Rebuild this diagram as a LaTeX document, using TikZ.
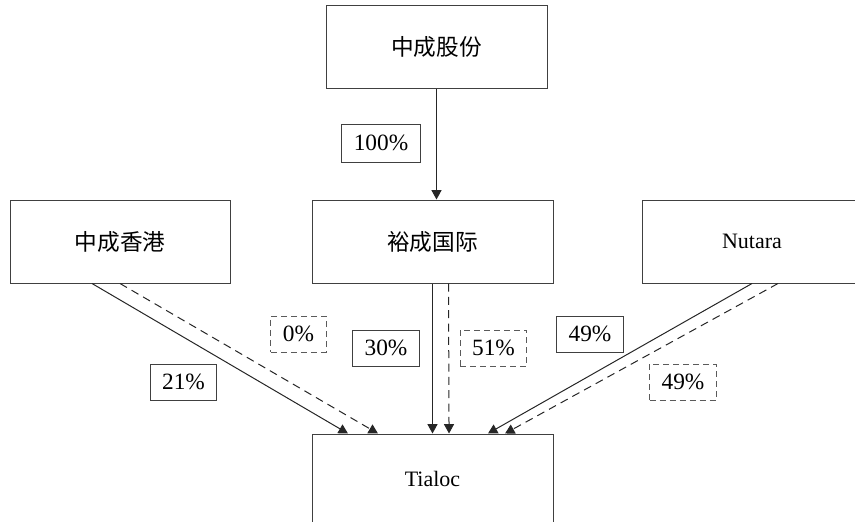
\documentclass[tikz,border=0pt]{standalone}
\usepackage{fontspec}
\setmainfont{Liberation Serif}
\newfontfamily\cjk{Noto Sans CJK SC}
\usetikzlibrary{arrows.meta}
\definecolor{boxline}{HTML}{404040}
\definecolor{dashline}{HTML}{5A5A5A}

\begin{document}
\begin{tikzpicture}[x=0.75pt,y=-0.75pt,
    company/.style={draw=boxline, line width=0.75pt, minimum height=62.25pt, inner sep=0pt,
      font=\fontsize{16.5}{19}\selectfont},
    pct/.style={draw=boxline, line width=0.75pt, minimum height=27pt, inner xsep=9pt, inner ysep=0pt,
      font=\fontsize{17.5}{20}\selectfont},
    pctdash/.style={pct, draw=dashline, dash pattern=on 4.5pt off 3pt},
    own/.style={draw=black!85, line width=0.75pt, -{Triangle[length=7pt,width=7.5pt]}},
    owndash/.style={own, dash pattern=on 6pt off 4pt}]
  \useasboundingbox (0,0) rectangle (855,521);
  \clip (0,0) rectangle (855,521);

  % companies
  \node[company, minimum width=165.75pt, font=\fontsize{17}{20}\selectfont] (zc) at (436.5,47) {\cjk 中成股份};
  \node[company, minimum width=165pt, font=\fontsize{17}{20}\selectfont] (hk) at (120,241.5) {\cjk 中成香港};
  \node[company, minimum width=180.75pt, font=\fontsize{17}{20}\selectfont] (yc) at (432.5,241.5) {\cjk 裕成国际};
  \node[company, minimum width=165pt] (nut) at (752,241.5) {Nutara};
  \node[company, minimum width=180.75pt, minimum height=67.5pt] (tia) at (432.5,479) {Tialoc};

  % shares
  \node[pct, minimum height=28.5pt] (p100) at (381,143) {100\%};
  \node[pct] (p21) at (183.5,382) {21\%};
  \node[pctdash] (p0) at (298.5,334) {0\%};
  \node[pct] (p30) at (386,348) {30\%};
  \node[pctdash] (p51) at (493.5,348) {51\%};
  \node[pct] (p49) at (590,334) {49\%};
  \node[pctdash] (p49d) at (683,382) {49\%};

  % holdings
  \draw[own] (zc.south) -- (zc.south |- yc.north);
  \draw[own] ([xshift=-21pt]hk.south) -- ([xshift=-63.4pt]tia.north);
  \draw[owndash] (hk.south) -- ([xshift=-40.9pt]tia.north);
  \draw[own] (yc.south) -- (tia.north);
  \draw[owndash] ([xshift=12pt]yc.south) -- ([xshift=12.4pt]tia.north);
  \draw[own] (nut.south) -- ([xshift=41.6pt]tia.north);
  \draw[owndash] ([xshift=19.5pt]nut.south) -- ([xshift=54.4pt]tia.north);
\end{tikzpicture}
\end{document}
